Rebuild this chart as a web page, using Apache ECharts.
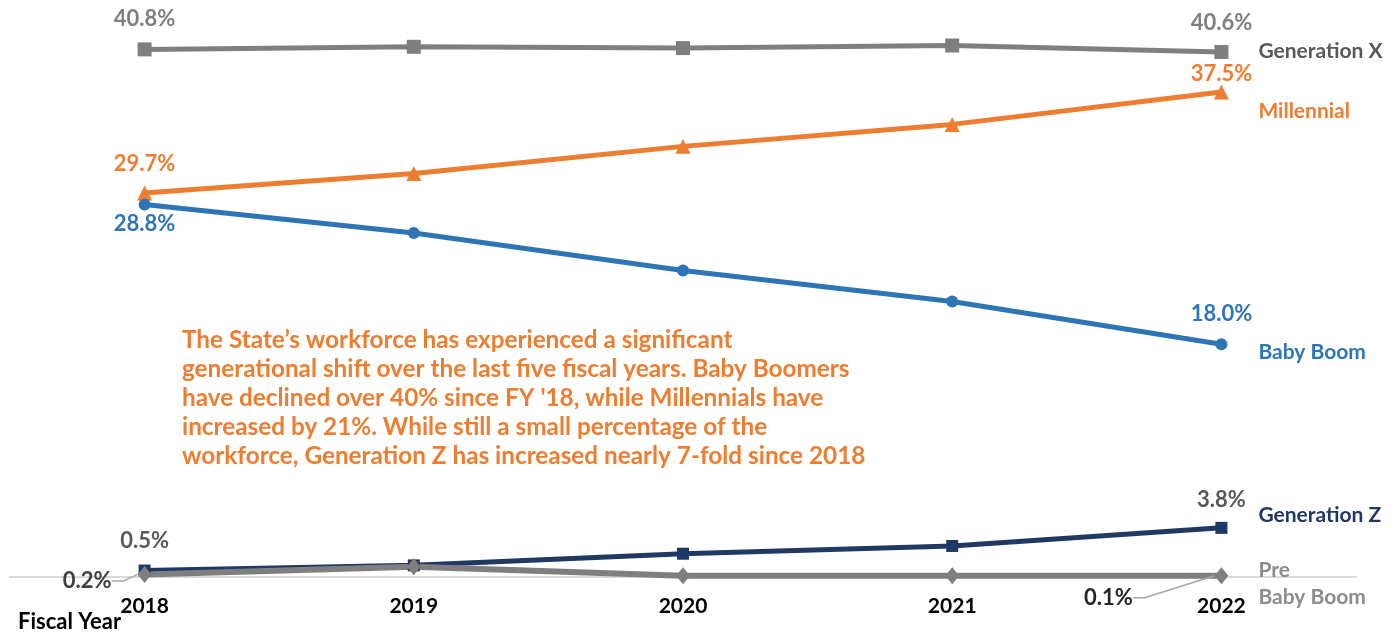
<!DOCTYPE html>
<html>
<head>
<meta charset="utf-8">
<style>
  html, body { margin: 0; padding: 0; background: #fff; }
  #chart { width: 1398px; height: 636px; }
</style>
<script src="https://cdn.jsdelivr.net/npm/echarts@6/dist/echarts.min.js"></script>
</head>
<body>
<div id="chart"></div>
<script>
// Share of the State workforce by generation, fiscal years 2018-2022 (percent)
const years = ['2018', '2019', '2020', '2021', '2022'];
const genX = [40.8, 41.0, 40.9, 41.1, 40.6];
const millennial = [29.7, 31.2, 33.3, 35.0, 37.5];
const babyBoom = [28.8, 26.6, 23.7, 21.3, 18.0];
const genZ = [0.5, 0.9, 1.8, 2.4, 3.8];
const preBabyBoom = [0.2, 0.8, 0.1, 0.1, 0.1];

const note = [
  'The State\u2019s workforce has experienced a significant',
  'generational shift over the last five fiscal years. Baby Boomers',
  'have declined over 40% since FY \'18, while Millennials have',
  'increased by 21%. While still a small percentage of the',
  'workforce, Generation Z has increased nearly 7-fold since 2018'
].join('\n');

const FONT = 'Lato, "Open Sans", sans-serif';

// Show value labels only on the first and last fiscal year
function edgeLabels(values, first, last) {
  return values.map((v, i) => {
    if (i === 0) return { value: v, label: Object.assign({ show: true }, first) };
    if (i === values.length - 1) return { value: v, label: Object.assign({ show: true }, last) };
    return v;
  });
}

function series(name, values, color, symbol, symbolSize, width, first, last, endOffset, labelColor) {
  return {
    name: name,
    type: 'line',
    data: edgeLabels(values, first, last),
    symbol: symbol,
    symbolSize: symbolSize,
    lineStyle: { color: color, width: width },
    itemStyle: { color: color },
    label: {
      show: false,
      formatter: p => p.value.toFixed(1) + '%',
      fontFamily: FONT,
      fontWeight: 'bold',
      fontSize: 22
    },
    endLabel: {
      show: true,
      formatter: () => name.replace('Pre Baby Boom', 'Pre\nBaby Boom'),
      color: labelColor,
      fontFamily: FONT,
      fontWeight: 'bold',
      fontSize: 21,
      lineHeight: 27,
      distance: 37,
      offset: [0, endOffset],
      align: 'left'
    }
  };
}

const chart = echarts.init(document.getElementById('chart'));

const all = [
  series('Generation X', genX, '#7f7f7f', 'rect', 14, 5,
    { position: 'top', distance: 12, color: '#7f7f7f' },
    { position: 'top', distance: 11, color: '#7f7f7f' }, -1, '#595959'),
  series('Millennial', millennial, '#ed7d31', 'triangle', 15, 5,
    { position: 'top', distance: 11, color: '#ed7d31' },
    { position: 'top', distance: 0, color: '#ed7d31' }, 19, '#ed7d31'),
  series('Baby Boom', babyBoom, '#2e75b6', 'circle', 12, 5,
    { position: 'bottom', distance: 2, color: '#2e75b6' },
    { position: 'top', distance: 13, color: '#2e75b6' }, 8, '#2e75b6'),
  series('Generation Z', genZ, '#203864', 'rect', 12, 5,
    { position: 'top', distance: 13, color: '#595959' },
    { position: 'top', distance: 11, color: '#595959' }, -13, '#203864'),
  series('Pre Baby Boom', preBabyBoom, '#7f7f7f', 'diamond', [14, 17], 6,
    { position: 'left', distance: 5, color: '#404040' },
    { position: 'bottom', distance: 5, color: '#262626' }, 8, '#8c8c8c')
];

// Move the two small Pre Baby Boom labels aside and tie them back with leader lines
all[4].labelLine = { show: true, length2: 12, lineStyle: { color: '#a6a6a6', width: 1.5 } };
all[4].labelLayout = function (p) {
  if (p.dataIndex === 0) return { dx: -21, dy: 6.5 };
  if (p.dataIndex === 4) return { dx: -113, dy: -2.5 };
  return {};
};

chart.setOption({
  animation: false,
  backgroundColor: '#ffffff',
  title: {
    text: 'Fiscal Year',
    left: 18,
    top: 611,
    padding: 0,
    textStyle: { fontFamily: FONT, fontWeight: 'bold', fontSize: 22, color: '#000000' }
  },
  grid: { left: 10, right: 42, top: 8, bottom: 59 },
  xAxis: {
    type: 'category',
    data: years,
    boundaryGap: true,
    axisLine: { lineStyle: { color: '#d9d9d9', width: 2 } },
    axisTick: { show: false },
    axisLabel: {
      margin: 19,
      color: '#000000',
      fontFamily: FONT,
      fontWeight: 'bold',
      fontSize: 21
    }
  },
  yAxis: {
    type: 'value',
    min: 0,
    max: 44,
    show: false,
    splitLine: { show: false }
  },
  graphic: [{
    type: 'text',
    left: 182,
    top: 326,
    style: {
      text: note,
      fill: '#ed7d31',
      font: 'bold 24.3px ' + FONT,
      lineHeight: 29
    }
  }],
  series: all
});
</script>
</body>
</html>
